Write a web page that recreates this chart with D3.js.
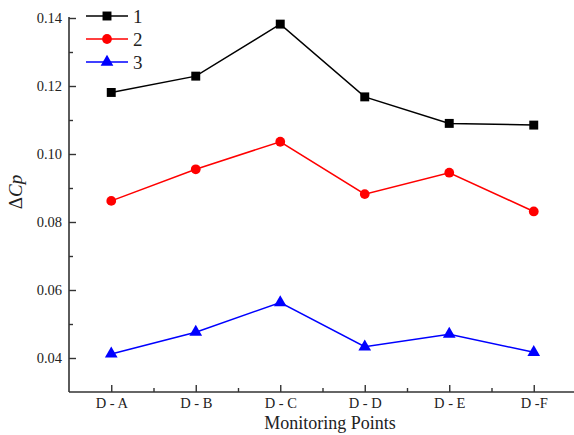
<!DOCTYPE html>
<html>
<head>
<meta charset="utf-8">
<script src="https://cdn.jsdelivr.net/npm/d3@7"></script>
<style>
  html, body { margin: 0; padding: 0; background: #fff; }
  svg { display: block; }
  svg text { font-family: "Liberation Serif", "Times New Roman", serif; fill: #222; }
</style>
</head>
<body>
<svg id="chart" width="574" height="435"></svg>
<script>
// Monitoring points along the x axis
const categories = ["D - A", "D - B", "D - C", "D - D", "D - E", "D -F"];

// ΔCp values for each case
const series1 = [0.1181, 0.1229, 0.1382, 0.1168, 0.1090, 0.1085];
const series2 = [0.0862, 0.0955, 0.1036, 0.0882, 0.0945, 0.0831];
const series3 = [0.0412, 0.0476, 0.0563, 0.0433, 0.0470, 0.0417];

const seriesNames = ["1", "2", "3"];

// y-axis ticks
const yMajorTicks = [0.04, 0.06, 0.08, 0.10, 0.12, 0.14];
const yMinorTicks = [0.05, 0.07, 0.09, 0.11, 0.13];

const svg = d3.select("#chart");
const serif = '"Liberation Serif", "Times New Roman", serif';

const plotLeft = 69, plotRight = 576, plotTop = 18, plotBottom = 392;

const x = d3.scaleLinear().domain([-0.5, categories.length - 0.5]).range([plotLeft, plotRight]);
const y = d3.scaleLinear().domain([0.03, 0.14]).range([plotBottom, plotTop]);

const axisColor = "#333";

// Y axis: major ticks with labels, inward-facing
const yAxis = svg.append("g")
  .attr("transform", `translate(${plotLeft},0)`)
  .call(d3.axisLeft(y).tickValues(yMajorTicks).tickSize(-7).tickPadding(7)
    .tickFormat(d3.format(".2f")).tickSizeOuter(0));
yAxis.select(".domain").remove();
yAxis.selectAll("line").attr("stroke", axisColor).attr("stroke-width", 1.4);
yAxis.selectAll("text").style("font-family", serif).style("font-size", "14.5px").style("fill", "#222");

const yMinor = svg.append("g")
  .attr("transform", `translate(${plotLeft},0)`)
  .call(d3.axisLeft(y).tickValues(yMinorTicks).tickSize(-4).tickFormat(""));
yMinor.select(".domain").remove();
yMinor.selectAll("line").attr("stroke", axisColor).attr("stroke-width", 1.4);

// X axis: ticks at each monitoring point, minor ticks in between
const idx = d3.range(categories.length);
const xAxis = svg.append("g")
  .attr("transform", `translate(0,${plotBottom})`)
  .call(d3.axisBottom(x).tickValues(idx).tickSize(-7).tickPadding(6)
    .tickFormat(i => categories[i]));
xAxis.select(".domain").remove();
xAxis.selectAll("line").attr("stroke", axisColor).attr("stroke-width", 1.4);
xAxis.selectAll("text").style("font-family", serif).style("font-size", "14.5px").style("fill", "#222");

const xMinor = svg.append("g")
  .attr("transform", `translate(0,${plotBottom})`)
  .call(d3.axisBottom(x).tickValues(idx.slice(0, -1).map(i => i + 0.5)).tickSize(-4).tickFormat(""));
xMinor.select(".domain").remove();
xMinor.selectAll("line").attr("stroke", axisColor).attr("stroke-width", 1.4);

// Axis lines (left and bottom only)
svg.append("line").attr("x1", plotLeft).attr("x2", plotLeft).attr("y1", plotTop - 1).attr("y2", plotBottom)
  .attr("stroke", axisColor).attr("stroke-width", 1.6);
svg.append("line").attr("x1", plotLeft).attr("x2", plotRight).attr("y1", plotBottom).attr("y2", plotBottom)
  .attr("stroke", axisColor).attr("stroke-width", 1.6);

// Axis titles
svg.append("text")
  .attr("x", 330).attr("y", 429)
  .attr("text-anchor", "middle")
  .style("font-family", serif).style("font-size", "18px")
  .text("Monitoring Points");

const yTitle = svg.append("text")
  .attr("transform", "translate(22,192) rotate(-90)")
  .attr("text-anchor", "middle")
  .style("font-family", serif).style("font-size", "19px");
yTitle.append("tspan").text("\u0394");
yTitle.append("tspan").style("font-style", "italic").text("Cp");

// Series lines and markers
const seriesData = [
  { name: seriesNames[0], values: series1, color: "#000000", symbol: d3.symbolSquare, size: 80 },
  { name: seriesNames[1], values: series2, color: "#ff0000", symbol: d3.symbolCircle, size: 75 },
  { name: seriesNames[2], values: series3, color: "#0000ff", symbol: d3.symbolTriangle, size: 70 }
];

const line = d3.line().x((d, i) => x(i)).y(d => y(d));

seriesData.forEach(s => {
  svg.append("path")
    .datum(s.values)
    .attr("d", line)
    .attr("fill", "none")
    .attr("stroke", s.color)
    .attr("stroke-width", 1.5);
  svg.selectAll(null)
    .data(s.values)
    .enter()
    .append("path")
    .attr("d", d3.symbol().type(s.symbol).size(s.size))
    .attr("transform", (d, i) => `translate(${x(i)},${y(d)})`)
    .attr("fill", s.color);
});

// Legend
const legend = svg.append("g");
seriesData.forEach((s, k) => {
  const ly = 16 + k * 23;
  legend.append("line")
    .attr("x1", 86).attr("x2", 128).attr("y1", ly).attr("y2", ly)
    .attr("stroke", s.color).attr("stroke-width", 1.5);
  legend.append("path")
    .attr("d", d3.symbol().type(s.symbol).size(s.size))
    .attr("transform", `translate(107,${ly})`)
    .attr("fill", s.color);
  legend.append("text")
    .attr("x", 133).attr("y", ly + 7)
    .style("font-family", serif).style("font-size", "19px")
    .text(s.name);
});
</script>
</body>
</html>
